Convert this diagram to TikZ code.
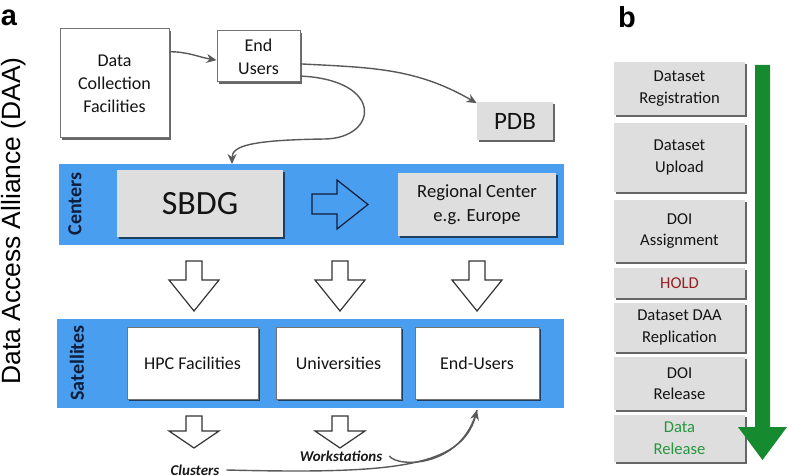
\documentclass[tikz,border=0pt]{standalone}
\usepackage{fontspec}
\setmainfont{Carlito}
\newfontfamily\helvfont{Liberation Sans}
\usepackage{xcolor}
\usepackage{tikz}
\usetikzlibrary{shapes,arrows.meta,shadows}

\definecolor{bandblue}{RGB}{74,158,240}
\definecolor{boxgray}{RGB}{222,222,222}
\definecolor{bandtext}{RGB}{16,30,58}
\definecolor{flowgreen}{RGB}{22,138,46}
\definecolor{holdred}{RGB}{150,32,32}
\definecolor{releasegreen}{RGB}{40,150,62}
\newcommand{\setfs}[2]{\fontsize{#1}{#2}\selectfont}

\begin{document}
\begin{tikzpicture}[x=0.5pt,y=-0.5pt,
  boxshadow/.style={drop shadow={shadow xshift=0.9pt,shadow yshift=-0.9pt,opacity=0.6,fill=black}},
  whitebox/.style={shape=rectangle,draw=black!55,line width=0.5pt,fill=white,boxshadow,align=center,inner sep=0pt,text=black!92,font=\setfs{9}{11.5}},
  graybox/.style={shape=rectangle,fill=boxgray,boxshadow,align=center,inner sep=0pt,text=black!92},
  stepbox/.style={graybox,minimum width=65.5pt,font=\setfs{8.3}{10.8}},
  band/.style={shape=rectangle,fill=bandblue,inner sep=0pt},
  bandlabel/.style={rotate=90,text=bandtext,font=\bfseries\setfs{10}{12}},
  flow/.style={draw=black!65,line width=0.7pt,-{Stealth[length=5pt,width=4.5pt]}},
  blockarrow/.style={draw=black!80,line width=0.6pt,fill=white,line join=miter},
  note/.style={font=\bfseries\itshape\setfs{7.5}{9},text=black!90}]
\useasboundingbox (0,0) rectangle (788,476);

% panel a
\node (lbla) at (9,18) [font=\helvfont\bfseries\setfs{14.5}{16}] {a};
\node (daa) at (14,221) [rotate=90,font=\helvfont\setfs{13.2}{15}] {Data Access Alliance (DAA)};

\node (dcf) at (114.5,83.5) [whitebox,minimum width=54.5pt,minimum height=54.5pt] {Data\\Collection\\Facilities};
\node (endusers) at (258.5,56.5) [whitebox,minimum width=41.5pt,minimum height=25.5pt] {End\\Users};
\node (pdb) at (515,121) [graybox,minimum width=38pt,minimum height=19pt,font=\setfs{12.5}{14}] {PDB};

\node (centersband) at (311.5,204.5) [band,minimum width=252.5pt,minimum height=40.5pt] {};
\node (centerslbl) at (75,204) [bandlabel] {Centers};
\node (sbdg) at (200,203.5) [graybox,minimum width=83pt,minimum height=33.5pt,font=\setfs{17}{20}] {SBDG};
\node (regional) at (477,204.5) [graybox,minimum width=79pt,minimum height=31.5pt,font=\setfs{9.3}{12}] {Regional Center\\e.g. Europe};
\draw [draw=bandtext,line width=0.6pt,line join=miter] (312,194) -- (337,194) -- (337,180) -- (368,204.5) -- (337,229) -- (337,214) -- (312,214) -- cycle;

\foreach \x in {194,340,477}
  \draw [blockarrow] ({\x-8},261) -- ({\x+8},261) -- ({\x+8},280) -- ({\x+25},280) -- (\x,311) -- ({\x-25},280) -- ({\x-8},280) -- cycle;

\node (satband) at (310.5,363.5) [band,minimum width=253.5pt,minimum height=44.5pt] {};
\node (satlbl) at (77,363) [bandlabel] {Satellites};
\node (hpc) at (192.5,363) [whitebox,minimum width=65.5pt,minimum height=36pt] {HPC Facilities};
\node (univ) at (338.5,363) [whitebox,minimum width=62.5pt,minimum height=36pt] {Universities};
\node (endusers2) at (477,363) [whitebox,minimum width=62pt,minimum height=36pt] {End-Users};

\foreach \x in {194,340}
  \draw [blockarrow] ({\x-8},416) -- ({\x+8},416) -- ({\x+8},431) -- ({\x+25},431) -- (\x,448) -- ({\x-25},431) -- ({\x-8},431) -- cycle;

\node (clusters) at (195,470) [note] {Clusters};
\node (workst) at (341,456) [note] {Workstations};

\coordinate (sbdgin) at (232,164);
\coordinate (bend) at (325,139);
\coordinate (euin) at (477,410);

\draw [flow] (dcf.30) to[out=0,in=170] (endusers.185);
\draw [flow] (endusers.-10) to[out=-3,in=150] (pdb.155);
\draw [flow] (endusers.-25) .. controls (385,80) and (378,138) .. (bend) .. controls (250,140) and (232,146) .. (sbdgin);
\draw [flow] (clusters.east) .. controls (390,474) and (462,468) .. (euin);
\draw [flow,-] (workst.east) .. controls (398,468) and (462,468) .. (euin);

% panel b
\node (lblb) at (627,17) [font=\helvfont\bfseries\setfs{14.5}{16}] {b};
\node (register) at (679.5,88.5) [stepbox,minimum height=26.5pt] {Dataset\\Registration};
\node (upload) at (679.5,157.5) [stepbox,minimum height=34.5pt] {Dataset\\Upload};
\node (doiassign) at (679.5,231) [stepbox,minimum height=31pt] {DOI\\Assignment};
\node (hold) at (679.5,283) [stepbox,minimum height=15pt,text=holdred] {HOLD};
\node (replicate) at (679.5,327.5) [stepbox,minimum height=24.5pt] {Dataset DAA\\Replication};
\node (doirelease) at (679.5,383.5) [stepbox,minimum height=26.5pt] {DOI\\Release};
\node (datarelease) at (679.5,438.5) [stepbox,minimum height=23.5pt,text=releasegreen] {Data\\Release};

\fill [flowgreen] (755,65) -- (770,65) -- (770,427) -- (787,427) -- (762.5,460) -- (738,427) -- (755,427) -- cycle;
\end{tikzpicture}
\end{document}
